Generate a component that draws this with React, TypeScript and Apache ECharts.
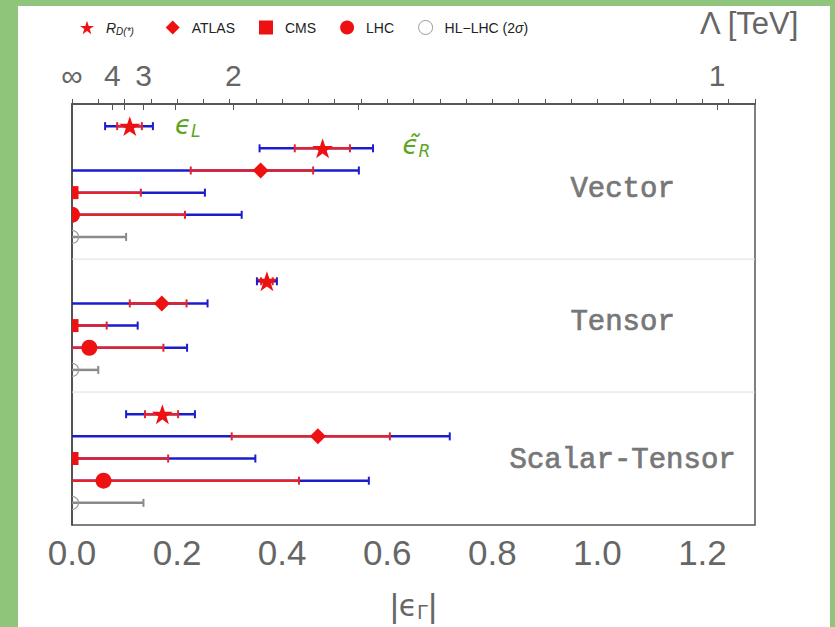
import React, { useEffect, useRef } from 'react';
import * as echarts from 'echarts';

// ---- data ----
const LAMBDA_SCALE = 1.228; // |eps| reached at Lambda = 1 TeV, eps = LAMBDA_SCALE / Lambda^2
const lambdaLabels = ['∞', '4', '3', '2', '1'];
const lambdaLabelValues = [Infinity, 4, 3, 2, 1];
const lambdaTickValues = [4, 3.5, 3, 2.5, 2, 1.5, 1];

const xMin = 0;
const xMax = 1.3;

const rdY = [1, 2, 8, 14];
const rdCenter = [0.110, 0.477, 0.371, 0.172];
const rdOuterLo = [0.063, 0.357, 0.352, 0.103];
const rdOuterHi = [0.154, 0.573, 0.390, 0.234];
const rdInnerLo = [0.086, 0.424, 0.360, 0.139];
const rdInnerHi = [0.133, 0.529, 0.382, 0.202];

const atlasY = [3, 9, 15];
const atlasCenter = [0.359, 0.171, 0.468];
const atlasOuterLo = [0, 0, 0];
const atlasOuterHi = [0.546, 0.258, 0.719];
const atlasInnerLo = [0.226, 0.110, 0.304];
const atlasInnerHi = [0.459, 0.218, 0.605];

const cmsY = [4, 10, 16];
const cmsCenter = [0, 0, 0];
const cmsOuterHi = [0.253, 0.125, 0.349];
const cmsInnerHi = [0.131, 0.066, 0.183];

const lhcY = [5, 11, 17];
const lhcCenter = [0, 0.033, 0.060];
const lhcOuterHi = [0.323, 0.219, 0.565];
const lhcInnerHi = [0.215, 0.174, 0.432];

const hlY = [6, 12, 18];
const hlCenter = [0, 0, 0];
const hlHi = [0.103, 0.050, 0.136];

const separatorY = [7, 13];
const groupNames = ['Vector', 'Tensor', 'Scalar-Tensor'];
const groupLabelY = [3.85, 9.85, 16.1];
const GROUP_X = 1.048;

const operatorNames = ['L', 'R'];
const operatorX = [0.196, 0.629];
const operatorY = [0.95, 1.85];

// ---- styles ----
const GREEN_FRAME = '#8fc57a';
const RED = '#ee1111';
const RED_LINE = '#e4222c';
const BLUE = '#1c1ccf';
const GRAY = '#8a8a8a';
const AXIS_TEXT = '#666';
const STAR = 'M50,0L61.8,35.3L99,35.3L69,57.6L80.3,93L50,71L19.7,93L31,57.6L1,35.3L38.2,35.3Z';

const lambdaToEps = (l: number) => (l === Infinity ? 0 : LAMBDA_SCALE / (l * l));

function markerShape(kind: string, cx: number, cy: number): any {
  if (kind === 'star') {
    const s = 21;
    return { type: 'path', shape: { pathData: STAR, x: cx - s / 2, y: cy - s / 2, width: s, height: s }, style: { fill: RED } };
  }
  if (kind === 'diamond') {
    const h = 8;
    return { type: 'polygon', shape: { points: [[cx, cy - h], [cx + h, cy], [cx, cy + h], [cx - h, cy]] }, style: { fill: RED } };
  }
  if (kind === 'square') {
    return { type: 'rect', shape: { x: cx - 6.5, y: cy - 6.5, width: 13, height: 13 }, style: { fill: RED } };
  }
  if (kind === 'circle') {
    return { type: 'circle', shape: { cx, cy, r: 8 }, style: { fill: RED } };
  }
  return { type: 'circle', shape: { cx, cy, r: 6.5 }, style: { fill: 'none', stroke: '#999', lineWidth: 1.2 } };
}

function makeRenderer(kind: string, outerColor: string, innerColor: string | null) {
  return (_params: any, api: any) => {
    const y = api.value(0);
    const c = api.value(1);
    const oLo = api.value(2);
    const oHi = api.value(3);
    const p = (x: number) => api.coord([x, y]);
    const children: any[] = [];
    const seg = (lo: number, hi: number, color: string) => {
      const a = p(lo);
      const b = p(hi);
      children.push({ type: 'line', shape: { x1: a[0] - (lo <= 0 ? 3 : 0), y1: a[1], x2: b[0], y2: b[1] }, style: { stroke: color, lineWidth: 2.5 } });
    };
    const cap = (x: number, color: string) => {
      if (x <= 0) return;
      const a = p(x);
      children.push({ type: 'line', shape: { x1: a[0], y1: a[1] - 4, x2: a[0], y2: a[1] + 4 }, style: { stroke: color, lineWidth: 2 } });
    };
    seg(oLo, oHi, outerColor);
    cap(oLo, outerColor);
    cap(oHi, outerColor);
    if (innerColor) {
      const iLo = api.value(4);
      const iHi = api.value(5);
      seg(iLo, iHi, innerColor);
      cap(iLo, innerColor);
      cap(iHi, innerColor);
    }
    const m = p(c);
    children.push(markerShape(kind, m[0], m[1]));
    return { type: 'group', children };
  };
}

export default function App() {
  const ref = useRef<HTMLDivElement>(null);

  useEffect(() => {
    if (!ref.current) return;
    const chart = echarts.init(ref.current, undefined, { renderer: 'svg' });

    const rdData = rdY.map((y, i) => [y, rdCenter[i], rdOuterLo[i], rdOuterHi[i], rdInnerLo[i], rdInnerHi[i]]);
    const atlasData = atlasY.map((y, i) => [y, atlasCenter[i], atlasOuterLo[i], atlasOuterHi[i], atlasInnerLo[i], atlasInnerHi[i]]);
    const cmsData = cmsY.map((y, i) => [y, cmsCenter[i], 0, cmsOuterHi[i], 0, cmsInnerHi[i]]);
    const lhcData = lhcY.map((y, i) => [y, lhcCenter[i], 0, lhcOuterHi[i], 0, lhcInnerHi[i]]);
    const hlData = hlY.map((y, i) => [y, hlCenter[i], 0, hlHi[i]]);

    const topLabelEps = lambdaLabelValues.map(lambdaToEps);
    const topTickEps = lambdaTickValues.map(lambdaToEps);

    const errSeries = (name: string, kind: string, data: any[], outer: string, inner: string | null) => ({
      type: 'custom',
      name,
      clip: true,
      z: 3,
      itemStyle: { color: kind === 'hollow' ? '#999' : RED },
      encode: { x: [1, 2, 3], y: 0 },
      data,
      renderItem: makeRenderer(kind, outer, inner),
    });

    const legendRich = {
      i: { fontStyle: 'italic', fontSize: 14, color: '#222', fontFamily: 'Liberation Sans' },
      s: { fontStyle: 'italic', fontSize: 10, color: '#222', padding: [8, 0, 0, 0], fontFamily: 'Liberation Sans' },
      n: { fontSize: 14, color: '#222', fontFamily: 'Liberation Sans' },
    };

    chart.setOption({
      animation: false,
      backgroundColor: 'transparent',
      title: {
        text: 'Λ [TeV]',
        right: 30,
        top: 3,
        textStyle: { fontSize: 31, color: AXIS_TEXT, fontWeight: 'normal', fontFamily: 'Liberation Sans' },
      },
      legend: {
        left: 75,
        top: 15,
        itemWidth: 14,
        itemHeight: 14,
        itemGap: 24,
        textStyle: { fontSize: 14, color: '#222', fontFamily: 'Liberation Sans', padding: [0, 0, 0, 7], rich: legendRich },
        formatter: (name: string) => {
          if (name === 'RD') return '{i|R}{s|D(*)}{n|\u00a0\u00a0}';
          if (name === 'HL-LHC') return '{n|HL−LHC (2}{i|σ}{n|)}';
          return name;
        },
        data: [
          { name: 'RD', icon: 'path://' + STAR },
          { name: 'ATLAS', icon: 'diamond' },
          { name: 'CMS', icon: 'rect' },
          { name: 'LHC', icon: 'circle' },
          { name: 'HL-LHC', icon: 'circle', itemStyle: { color: '#fff', borderColor: '#999', borderWidth: 1 } },
        ],
      },
      grid: {
        left: 72,
        right: 80,
        top: 104,
        bottom: 102,
        show: true,
        borderColor: '#555',
        borderWidth: 1.5,
        backgroundColor: 'transparent',
      },
      xAxis: [
        {
          type: 'value',
          min: xMin,
          max: xMax,
          interval: 0.2,
          position: 'bottom',
          axisLine: { show: true, lineStyle: { color: '#555', width: 1.5 } },
          axisTick: { show: true, inside: true, length: 5, lineStyle: { color: '#555' } },
          minorTick: { show: true, splitNumber: 4, length: 5, lineStyle: { color: '#555' } },
          splitLine: { show: false },
          axisLabel: {
            fontSize: 35,
            color: AXIS_TEXT,
            margin: 10,
            fontFamily: 'Liberation Sans',
            formatter: (v: number) => v.toFixed(1),
            showMaxLabel: false,
          },
          name: '|{e|ϵ}{s|Γ}|',
          nameLocation: 'middle',
          nameGap: 63,
          nameTextStyle: {
            fontSize: 34,
            color: AXIS_TEXT,
            fontFamily: 'Liberation Sans',
            rich: {
              e: { fontSize: 30, color: AXIS_TEXT, fontFamily: 'DejaVu Sans' },
              s: { fontSize: 20, color: AXIS_TEXT, fontFamily: 'Liberation Sans', padding: [14, 0, 0, 0] },
            },
          },
        },
        {
          type: 'value',
          min: xMin,
          max: xMax,
          position: 'top',
          axisLine: { show: true, lineStyle: { color: '#555', width: 1.5 } },
          axisTick: { show: true, inside: true, length: 6, customValues: topTickEps, lineStyle: { color: '#555' } },
          splitLine: { show: false },
          axisLabel: {
            fontSize: 30,
            color: AXIS_TEXT,
            margin: 14,
            fontFamily: 'Liberation Sans',
            customValues: topLabelEps,
            formatter: (v: number) => {
              const idx = topLabelEps.findIndex((e) => Math.abs(e - v) < 1e-9);
              return idx >= 0 ? lambdaLabels[idx] : '';
            },
          },
        },
      ],
      yAxis: {
        type: 'value',
        min: 0,
        max: 19,
        inverse: true,
        axisLine: { show: true, lineStyle: { color: '#444', width: 1.5 } },
        axisTick: { show: false },
        axisLabel: { show: false },
        splitLine: { show: false },
      },
      series: [
        {
          type: 'custom',
          name: 'separators',
          z: 1,
          silent: true,
          encode: { y: 0 },
          data: separatorY.map((y) => [y]),
          renderItem: (_p: any, api: any) => {
            const a = api.coord([xMin, api.value(0)]);
            const b = api.coord([xMax, api.value(0)]);
            return { type: 'line', shape: { x1: a[0], y1: a[1], x2: b[0], y2: b[1] }, style: { stroke: '#dddddd', lineWidth: 1 } };
          },
        },
        {
          type: 'custom',
          name: 'groups',
          z: 2,
          silent: true,
          encode: { x: 0, y: 1 },
          data: groupLabelY.map((y, i) => [GROUP_X, y, i]),
          renderItem: (_p: any, api: any) => {
            const pt = api.coord([api.value(0), api.value(1)]);
            return {
              type: 'text',
              x: pt[0],
              y: pt[1],
              style: {
                text: groupNames[api.value(2)],
                fill: '#777',
                stroke: '#777',
                lineWidth: 0.7,
                fontSize: 29,
                fontWeight: 'normal',
                fontFamily: '"Liberation Mono", "Courier New", monospace',
                align: 'center',
                verticalAlign: 'middle',
              },
            };
          },
        },
        {
          type: 'custom',
          name: 'operators',
          z: 2,
          silent: true,
          encode: { x: 0, y: 1 },
          data: operatorNames.map((n, i) => [operatorX[i], operatorY[i], i]),
          renderItem: (_p: any, api: any) => {
            const pt = api.coord([api.value(0), api.value(1)]);
            const i = api.value(2);
            const eps = i === 1 ? 'ϵ̃' : 'ϵ';
            return {
              type: 'text',
              x: pt[0],
              y: pt[1],
              style: {
                text: '{e|' + eps + '}{s|' + operatorNames[i] + '}',
                align: 'left',
                verticalAlign: 'middle',
                rich: {
                  e: { fontSize: 26, fill: '#5ea61f', fontStyle: 'italic', fontFamily: 'DejaVu Sans' },
                  s: { fontSize: 17, fill: '#5ea61f', fontStyle: 'italic', fontFamily: 'DejaVu Sans', padding: [12, 0, 0, 0] },
                },
              },
            };
          },
        },
        errSeries('RD', 'star', rdData, BLUE, RED_LINE),
        errSeries('ATLAS', 'diamond', atlasData, BLUE, RED_LINE),
        errSeries('CMS', 'square', cmsData, BLUE, RED_LINE),
        errSeries('LHC', 'circle', lhcData, BLUE, RED_LINE),
        errSeries('HL-LHC', 'hollow', hlData, GRAY, null),
      ],
    });

    return () => chart.dispose();
  }, []);

  return (
    <div style={{ position: 'fixed', left: 0, top: 0, width: 835, height: 627, background: GREEN_FRAME }}>
      <div style={{ position: 'absolute', left: 18, top: 6, right: 5, bottom: 0, background: '#fff' }} />
      <div ref={ref} style={{ position: 'absolute', left: 0, top: 0, width: 835, height: 627 }} />
    </div>
  );
}
